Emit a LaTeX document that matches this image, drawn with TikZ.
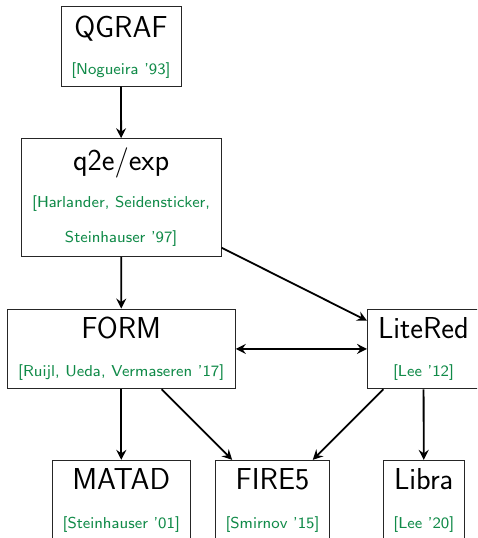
\documentclass[tikz,border=0pt]{standalone}
\usetikzlibrary{arrows.meta}
\definecolor{citegreen}{RGB}{16,138,72}
\font\ttlfnt=cmss17 at 30.3pt
\font\citfnt=cmss8 at 15.8pt
\tikzset{
  box/.style={draw=black!85, line width=1pt, rectangle, inner sep=0pt},
  ttl/.style={anchor=base, inner sep=0pt, font=\ttlfnt},
  cit/.style={anchor=base, inner sep=0pt, text=citegreen, font=\citfnt},
  arr/.style={line width=1.8pt, -{Stealth[length=10pt,width=10pt,inset=3.5pt]}},
  darr/.style={line width=1.8pt, {Stealth[length=10pt,width=10pt,inset=3.5pt]}-{Stealth[length=10pt,width=10pt,inset=3.5pt]}}
}
\begin{document}
\begin{tikzpicture}[x=1pt,y=-1pt]
\useasboundingbox (0,0) rectangle (477,538);
\clip (0,0) rectangle (477,538);
% boxes
\node[box, minimum width=120pt, minimum height=80pt] (qgraf) at (121,46) {};
\node[box, minimum width=199.7pt, minimum height=117.6pt] (q2e) at (121.2,197.5) {};
\node[box, minimum width=228pt, minimum height=79.7pt] (form) at (121.3,348.9) {};
\node[box, minimum width=112pt, minimum height=79.7pt] (litered) at (423.5,348.9) {};
\node[box, minimum width=138pt, minimum height=79.7pt] (matad) at (121.3,500.2) {};
\node[box, minimum width=114.4pt, minimum height=79.7pt] (fire) at (272.5,500.2) {};
\node[box, minimum width=81pt, minimum height=79.7pt] (libra) at (423.8,500.2) {};
% texts
\node[ttl] (qgraf-t) at (121,37.7) {QGRAF};
\node[cit] (qgraf-c) at (121,74) {[Nogueira '93]};
\node[ttl] (q2e-t) at (121.2,170.7) {q2e/exp};
\node[cit] (q2e-c1) at (121.2,207) {[Harlander, Seidensticker,};
\node[cit] (q2e-c2) at (121.2,242.7) {Steinhauser '97]};
\node[ttl] (form-t) at (121.3,338.3) {FORM};
\node[cit] (form-c) at (121.3,376) {[Ruijl, Ueda, Vermaseren '17]};
\node[ttl] (litered-t) at (423.5,338.3) {LiteRed};
\node[cit] (litered-c) at (423.5,376) {[Lee '12]};
\node[ttl] (matad-t) at (121.3,489.3) {MATAD};
\node[cit] (matad-c) at (121.3,528.3) {[Steinhauser '01]};
\node[ttl] (fire-t) at (272.5,489.3) {FIRE5};
\node[cit] (fire-c) at (272.5,528.3) {[Smirnov '15]};
\node[ttl] (libra-t) at (423.8,489.3) {Libra};
\node[cit] (libra-c) at (423.8,528.3) {[Lee '20]};
% connectors
\draw[arr] (qgraf) -- (q2e);
\draw[arr] (q2e) -- (form);
\draw[arr] (q2e) -- (litered);
\draw[darr] (form) -- (litered);
\draw[arr] (form) -- (matad);
\draw[arr] (form) -- (fire);
\draw[arr] (litered) -- (fire);
\draw[arr] (litered) -- (libra);
\end{tikzpicture}
\end{document}
